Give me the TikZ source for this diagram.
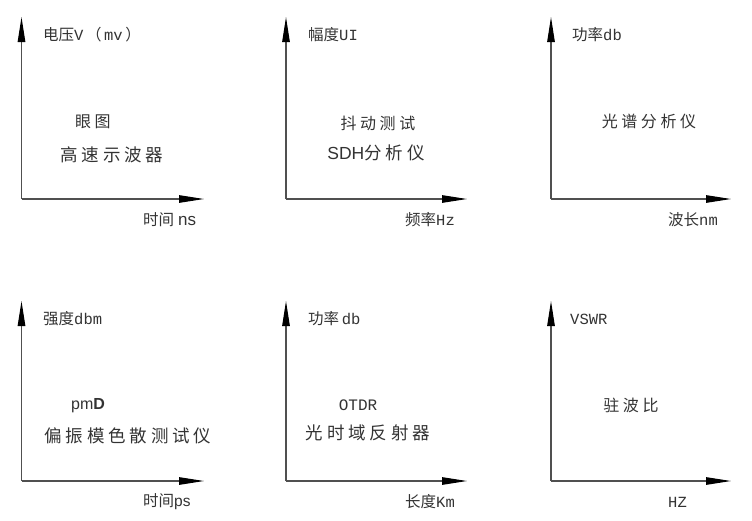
\documentclass[tikz,border=0pt]{standalone}
\usepackage{fontspec}
\setmainfont{Liberation Serif}
\newfontfamily\cjk{Noto Sans CJK SC}
\newfontfamily\cjkw{Noto Sans CJK SC}[LetterSpace=22]
\newfontfamily\mono{Liberation Mono}
\newfontfamily\lsans{Liberation Sans}
\usetikzlibrary{arrows.meta}
\definecolor{axiscol}{HTML}{505050}
\definecolor{txtcol}{HTML}{333333}
\tikzset{
  axisline/.style={draw=axiscol, line width=1.1pt, -{Triangle[length=25pt,width=7.5pt,color=black]}},
  axlabel/.style={anchor=west, inner sep=0pt, text=txtcol, font=\fontsize{15.5}{17}\selectfont},
  midsmall/.style={anchor=center, inner sep=0pt, text=txtcol, font=\fontsize{16}{18}\selectfont},
  midbig/.style={anchor=center, inner sep=0pt, text=txtcol, font=\fontsize{17.5}{19}\selectfont},
}
\begin{document}
\begin{tikzpicture}[x=1pt,y=-1pt]
\useasboundingbox (0,0) rectangle (752,520);
% origins and axis ends
\coordinate (o1) at (21.5,199); \coordinate (y1) at (21.5,17); \coordinate (x1) at (204,199);
\coordinate (o2) at (286,199);  \coordinate (y2) at (286,17);  \coordinate (x2) at (467,199);
\coordinate (o3) at (551,199);  \coordinate (y3) at (551,17);  \coordinate (x3) at (731,199);
\coordinate (o4) at (21.5,481); \coordinate (y4) at (21.5,301); \coordinate (x4) at (204,481);
\coordinate (o5) at (286,481);  \coordinate (y5) at (286,301); \coordinate (x5) at (467,481);
\coordinate (o6) at (551,481);  \coordinate (y6) at (551,301); \coordinate (x6) at (731,481);
\foreach \i in {1,...,6}{
  \draw[axisline] (o\i) -- (y\i);
  \draw[axisline] (o\i) -- (x\i);
}
% panel 1
\node[axlabel] (v1) at (43,35) {{\cjk 电压}{\mono V}\,{\cjk （}\,{\mono mv}\,{\cjk ）}};
\node[midsmall] (s1) at (93,122) {\cjkw 眼图};
\node[midbig] (b1) at (112,155) {\cjkw 高速示波器};
\node[axlabel] (h1) at (143,220) {{\cjk 时间}\ {\lsans\fontsize{17}{18}\selectfont ns}};
% panel 2
\node[axlabel] (v2) at (308,35) {{\cjk 幅度}{\mono UI}};
\node[midsmall] (s2) at (378,123) {\cjkw 抖动测试};
\node[midbig] (b2) at (376,153) {{\lsans SDH}{\cjkw 分析仪}};
\node[axlabel] (h2) at (405,220) {{\cjk 频率}{\mono Hz}};
% panel 3
\node[axlabel] (v3) at (572,35) {{\cjk 功率}{\mono db}};
\node[midsmall] (s3) at (649,121) {\cjkw 光谱分析仪};
\node[axlabel] (h3) at (668,220) {{\cjk 波长}{\mono nm}};
% panel 4
\node[axlabel] (v4) at (43,319) {{\cjk 强度}{\mono dbm}};
\node[midsmall] (s4) at (88,406) {{\lsans pm\textbf{D}}};
\node[midbig] (b4) at (128,436) {\cjkw 偏振模色散测试仪};
\node[axlabel] (h4) at (143,502) {{\cjk 时间}{\lsans ps}};
% panel 5
\node[axlabel] (v5) at (308,319) {{\cjk 功率}\,{\mono db}};
\node[midsmall] (s5) at (358,405) {\mono OTDR};
\node[midbig] (b5) at (368,433) {\cjkw 光时域反射器};
\node[axlabel] (h5) at (405,502) {{\cjk 长度}{\mono Km}};
% panel 6
\node[axlabel] (v6) at (570,319) {\mono VSWR};
\node[midsmall] (s6) at (631,405) {\cjkw 驻波比};
\node[axlabel] (h6) at (668,502) {\mono HZ};
\end{tikzpicture}
\end{document}
